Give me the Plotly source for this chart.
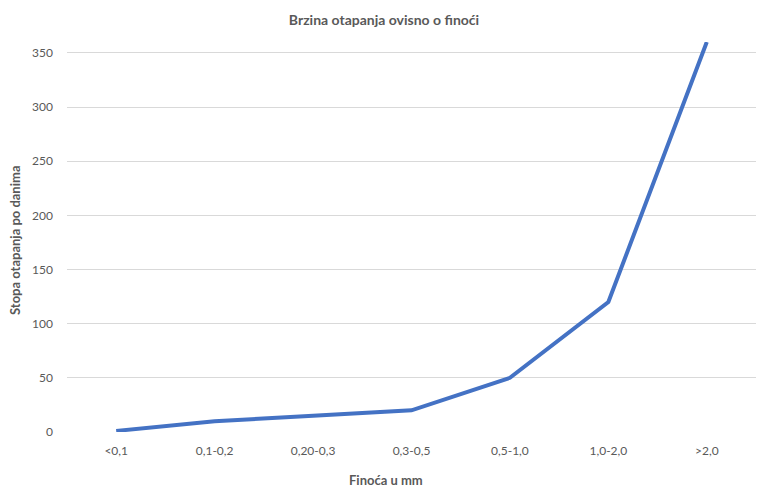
import plotly.graph_objects as go

categories = ["<0,1", "0,1-0,2", "0,20-0,3", "0,3-0,5", "0,5-1,0", "1,0-2,0", ">2,0"]
values = [1, 10, 15, 20, 50, 120, 360]
y_ticks = [0, 50, 100, 150, 200, 250, 300, 350]

W, H = 768, 492

fig = go.Figure()
fig.add_trace(go.Scatter(
    x=categories, y=values, mode="lines",
    line=dict(color="#4472C4", width=4),
    cliponaxis=False, showlegend=False,
))

font_family = "Lato, Open Sans, sans-serif"
grey = "#595959"
fig.update_layout(
    width=W, height=H,
    margin=dict(l=67, r=12, t=42, b=60),
    paper_bgcolor="white", plot_bgcolor="white",
    font=dict(family=font_family, color=grey, size=12),
    title=dict(text="<b>Brzina otapanja ovisno o finoći</b>", x=0.5, xanchor="center",
               y=1 - 20 / H, yanchor="middle", font=dict(size=14, color=grey)),
    annotations=[
        dict(text="<b>Finoća u mm</b>", xref="paper", yref="paper",
             x=(386 - 67) / (W - 67 - 12), y=-(480 - 432) / (432 - 42),
             xanchor="center", yanchor="middle", showarrow=False,
             font=dict(size=13, color=grey)),
        dict(text="<b>Stopa otapanja po danima</b>", xref="paper", yref="paper",
             x=-(67 - 15) / (W - 67 - 12), y=(432 - 240) / (432 - 42),
             xanchor="center", yanchor="middle", showarrow=False, textangle=-90,
             font=dict(size=13, color=grey)),
    ],
)
fig.update_xaxes(
    type="category", range=[-0.5, 6.5], showgrid=False, zeroline=False,
    showline=False, ticks="", ticklabelstandoff=10, tickfont=dict(size=12, color=grey),
)
fig.update_yaxes(
    range=[0, 360], tickvals=y_ticks, showgrid=True, gridcolor="#D9D9D9", gridwidth=1,
    zeroline=False, showline=False, ticks="", ticklabelstandoff=13,
    tickfont=dict(size=12, color=grey),
)
fig.write_html("out.html", config={"displayModeBar": False},
               post_script="document.body.style.margin='0';document.body.style.padding='0';")
